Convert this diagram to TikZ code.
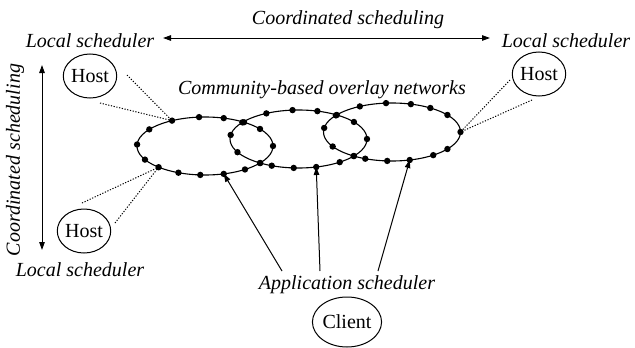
\documentclass[tikz,border=0pt]{standalone}
\usepackage{fontspec}
\setmainfont{Liberation Serif}
\usetikzlibrary{arrows.meta,shapes.geometric,calc}
\begin{document}
\begin{tikzpicture}[x=1pt,y=-1pt,
  lbl/.style={font=\fontsize{20}{24}\selectfont\itshape, inner sep=0},
  hostnode/.style={draw, ellipse, line width=1pt, minimum width=48, minimum height=44, inner sep=0, font=\fontsize{20}{24}\selectfont},
  arr/.style={line width=1pt, -{Triangle[length=8pt,width=5.5pt]}},
  dblarr/.style={line width=1pt, {Triangle[length=8pt,width=5.5pt]}-{Triangle[length=8pt,width=5.5pt]}},
  ring/.style={line width=1.1pt},
  link/.style={dash pattern=on 1.2pt off 1.6pt, line width=1pt},
  dotmark/.style={fill=black}
]
\useasboundingbox (0,0) rectangle (635,348);

% ring centres
\coordinate (c1) at (205,146);
\coordinate (c2) at (298.5,139);
\coordinate (c3) at (392,132);

% rings
\draw[ring] (c1) ellipse [x radius=68, y radius=29];
\draw[ring] (c2) ellipse [x radius=68.5, y radius=29];
\draw[ring] (c3) ellipse [x radius=68.5, y radius=29];

% peers on the rings
\foreach \t in {-119,-95,-74,-55,-36,0,36,54,74,94,113,133,152,183,215}
  \fill[dotmark] ($(c1)+(\t:68 and 29)$) circle (3.2);
\foreach \t in {-118,-95,-74,-56,-36,0,36,53,75,94,113,124,153,188,215}
  \fill[dotmark] ($(c2)+(\t:68.5 and 29)$) circle (3.2);
\foreach \t in {-118,-95,-74,-56,-36,0,36,53,75,94,113,124,150,188,215}
  \fill[dotmark] ($(c3)+(\t:68.5 and 29)$) circle (3.2);

% hosts and client
\node[hostnode] (h1) at (90,76) {Host};
\node[hostnode] (h2) at (539,74) {Host};
\node[hostnode] (h3) at (84,231) {Host};
\node[hostnode, minimum width=61, minimum height=50] (cl) at (347,322) {Client};

% labels
\node[lbl] (top) at (348,20) {Coordinated scheduling};
\node[lbl] (ltl) at (90,41) {Local scheduler};
\node[lbl] (ltr) at (566,41) {Local scheduler};
\node[lbl] (lbl3) at (80,270) {Local scheduler};
\node[lbl, rotate=90] (vert) at (15,160) {Coordinated scheduling};
\node[lbl] (comm) at (322,90) {Community-based overlay networks};
\node[lbl] (app) at (347,285) {Application scheduler};

% coordinated scheduling arrows
\coordinate (ha) at (163,38);
\coordinate (hb) at (490,38);
\draw[dblarr] (ha) -- (hb);
\coordinate (va) at (42,65);
\coordinate (vb) at (42,250);
\draw[dblarr] (va) -- (vb);

% dotted links host -> ring
\coordinate (r1) at ($(c1)+(-119:68 and 29)$);
\coordinate (r3) at ($(c1)+(133:68 and 29)$);
\coordinate (r2) at ($(c3)+(0:68.5 and 29)$);
\coordinate (s1a) at (127,75);
\coordinate (s1b) at (100,103);
\coordinate (s2a) at (510,80);
\coordinate (s2b) at (532,100);
\coordinate (s3a) at (82,203);
\coordinate (s3b) at (115,223);
\draw[link] (s1a) -- (r1);
\draw[link] (s1b) -- (r1);
\draw[link] (s2a) -- (r2);
\draw[link] (s2b) -- (r2);
\draw[link] (s3a) -- (r3);
\draw[link] (s3b) -- (r3);

% application scheduler arrows
\coordinate (a1) at (282,271);
\coordinate (a2) at (320,271);
\coordinate (a3) at (378,271);
\coordinate (t1) at ($(c1)+(74:68 and 29)$);
\coordinate (t2) at ($(c2)+(75:68.5 and 29)$);
\coordinate (t3) at ($(c3)+(75:68.5 and 29)$);
\draw[arr] (a1) -- (t1);
\draw[arr] (a2) -- (t2);
\draw[arr] (a3) -- (t3);
\end{tikzpicture}
\end{document}
